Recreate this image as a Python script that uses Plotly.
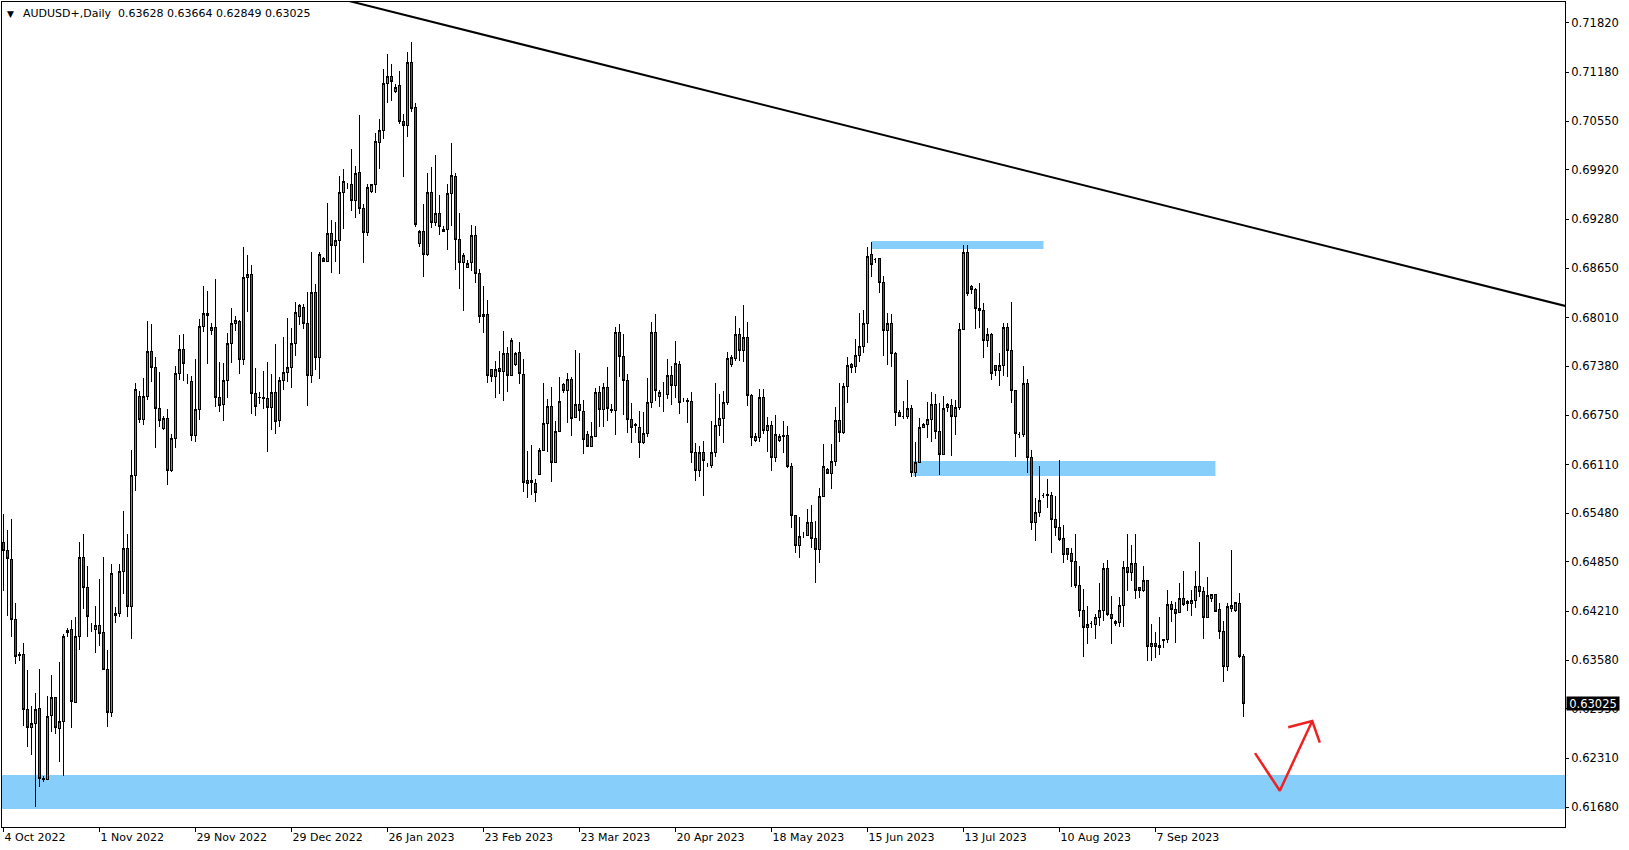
import plotly.graph_objects as go

# ---------------- data (AUDUSD+, Daily) ----------------
opens = [
    0.65102, 0.64995, 0.64884, 0.64109, 0.63656, 0.63656, 0.62945, 0.62714, 0.62756, 0.62955,
    0.62054, 0.62040, 0.62862, 0.63102, 0.62700, 0.62793, 0.63933, 0.63979, 0.63037, 0.63887,
    0.64903, 0.64524, 0.63989, 0.63979, 0.64030, 0.63933, 0.63462, 0.62908, 0.64178, 0.64178,
    0.64732, 0.65023, 0.64270, 0.65965, 0.66990, 0.66695, 0.66990, 0.67572, 0.67364, 0.66833,
    0.66579, 0.66704, 0.66034, 0.66450, 0.67286, 0.67595, 0.67180, 0.67180, 0.66487, 0.66824,
    0.67895, 0.68066, 0.67849, 0.67884, 0.66978, 0.66888, 0.67202, 0.67677, 0.67935, 0.67965,
    0.67470, 0.68530, 0.68569, 0.67030, 0.66978, 0.66978, 0.66966, 0.66849, 0.67043, 0.66685,
    0.67202, 0.67302, 0.67366, 0.67677, 0.68030, 0.68142, 0.67935, 0.67263, 0.68336, 0.67496,
    0.68776, 0.68741, 0.69099, 0.68948, 0.69008, 0.69629, 0.69715, 0.69724, 0.69521, 0.69888,
    0.69422, 0.69112, 0.69640, 0.69724, 0.70275, 0.70435, 0.71030, 0.71133, 0.70931, 0.71004,
    0.70543, 0.70491, 0.71310, 0.70728, 0.68970, 0.69129, 0.68819, 0.69629, 0.69241, 0.69349,
    0.69121, 0.69151, 0.69616, 0.69840, 0.69021, 0.68720, 0.68659, 0.68724, 0.69077, 0.68582,
    0.68022, 0.68052, 0.67332, 0.67246, 0.67345, 0.67310, 0.67547, 0.67259, 0.67405, 0.67560,
    0.67280, 0.65897, 0.65897, 0.65867, 0.65983, 0.66285, 0.66634, 0.66866, 0.66134, 0.66538,
    0.67138, 0.67065, 0.67203, 0.66720, 0.66892, 0.66793, 0.66500, 0.66341, 0.66470, 0.67043,
    0.66823, 0.67108, 0.66823, 0.66806, 0.67819, 0.67504, 0.67194, 0.66694, 0.66610, 0.66590,
    0.66392, 0.66513, 0.66914, 0.67819, 0.66987, 0.67021, 0.67021, 0.67263, 0.67129, 0.67409,
    0.66935, 0.66944, 0.66922, 0.66263, 0.66030, 0.66263, 0.66090, 0.66095, 0.66263, 0.66612,
    0.66707, 0.66914, 0.67409, 0.67482, 0.67797, 0.67582, 0.67754, 0.67000, 0.66418, 0.66461,
    0.66978, 0.66547, 0.66608, 0.66202, 0.66418, 0.66470, 0.66491, 0.66082, 0.65448, 0.65060,
    0.65207, 0.65198, 0.65362, 0.65155, 0.65013, 0.65694, 0.66051, 0.65995, 0.66146, 0.66685,
    0.66522, 0.67125, 0.67397, 0.67375, 0.67513, 0.67642, 0.67935, 0.68819, 0.68767, 0.68776,
    0.68465, 0.67840, 0.67927, 0.67547, 0.66780, 0.66737, 0.66737, 0.66836, 0.66004, 0.66138,
    0.66591, 0.66621, 0.66694, 0.66892, 0.66535, 0.66241, 0.66849, 0.66879, 0.66737, 0.66849,
    0.67858, 0.68849, 0.68418, 0.68375, 0.68129, 0.68099, 0.67711, 0.67793, 0.67384, 0.67323,
    0.67384, 0.67883, 0.67582, 0.67065, 0.66500, 0.66500, 0.67159, 0.66198, 0.65358, 0.65487,
    0.65707, 0.65707, 0.65703, 0.65401, 0.65298, 0.65156, 0.65026, 0.64953, 0.64862, 0.64544,
    0.64220, 0.64005, 0.64048, 0.64035, 0.64134, 0.64216, 0.64768, 0.64177, 0.64048, 0.64065,
    0.64281, 0.64781, 0.64716, 0.64832, 0.64522, 0.64479, 0.64604, 0.63755, 0.63798, 0.63768,
    0.63828, 0.63841, 0.64306, 0.64238, 0.64194, 0.64380, 0.64345, 0.64315, 0.64358, 0.64539,
    0.64466, 0.64134, 0.64380, 0.64423, 0.64229, 0.63949, 0.63496, 0.64251, 0.64216, 0.64315,
    0.63628,
]
highs = [
    0.65471, 0.65263, 0.65402, 0.64316, 0.63684, 0.63808, 0.63453, 0.62991, 0.63162, 0.63462,
    0.62087, 0.63116, 0.63393, 0.63110, 0.63554, 0.63924, 0.63993, 0.64099, 0.64132, 0.65102,
    0.65217, 0.64801, 0.64062, 0.64279, 0.64630, 0.64908, 0.63716, 0.64824, 0.64270, 0.64824,
    0.65503, 0.65217, 0.66302, 0.67166, 0.67064, 0.67226, 0.67965, 0.67932, 0.67503, 0.67304,
    0.66741, 0.66824, 0.66501, 0.67387, 0.67780, 0.67803, 0.67286, 0.67249, 0.67480, 0.67988,
    0.68413, 0.68357, 0.67935, 0.68508, 0.67440, 0.67427, 0.67814, 0.68129, 0.68030, 0.67978,
    0.68918, 0.68819, 0.68690, 0.67353, 0.67052, 0.67323, 0.67435, 0.67280, 0.67668, 0.67246,
    0.67763, 0.68000, 0.67879, 0.68215, 0.68185, 0.68185, 0.68336, 0.68853, 0.68444, 0.68862,
    0.68790, 0.69495, 0.69271, 0.69250, 0.69845, 0.69926, 0.69745, 0.70189, 0.69970, 0.70629,
    0.69478, 0.69737, 0.69730, 0.70401, 0.70577, 0.71224, 0.71418, 0.71288, 0.71030, 0.71198,
    0.70642, 0.71439, 0.71569, 0.70788, 0.69142, 0.69478, 0.69883, 0.69952, 0.70112, 0.69595,
    0.69194, 0.69737, 0.70271, 0.69883, 0.69358, 0.68840, 0.68754, 0.69207, 0.69194, 0.68638,
    0.68418, 0.68237, 0.67340, 0.67448, 0.67578, 0.67841, 0.67634, 0.67741, 0.67569, 0.67690,
    0.67474, 0.66289, 0.66362, 0.65918, 0.66319, 0.67160, 0.66957, 0.67117, 0.66673, 0.67246,
    0.67168, 0.67289, 0.67246, 0.67591, 0.67547, 0.66944, 0.66538, 0.66664, 0.67095, 0.67125,
    0.67168, 0.67375, 0.66892, 0.67892, 0.67927, 0.67797, 0.67280, 0.66901, 0.66651, 0.66801,
    0.66793, 0.67224, 0.67957, 0.68056, 0.67073, 0.67181, 0.67470, 0.67383, 0.67707, 0.67448,
    0.66965, 0.66965, 0.67043, 0.66383, 0.66349, 0.66414, 0.66125, 0.66677, 0.67168, 0.67021,
    0.67064, 0.67569, 0.67526, 0.68030, 0.67870, 0.68172, 0.67948, 0.67021, 0.66513, 0.67082,
    0.67082, 0.66720, 0.66672, 0.66750, 0.66504, 0.66672, 0.66608, 0.66133, 0.65457, 0.65427,
    0.65241, 0.65534, 0.65586, 0.65384, 0.65802, 0.66375, 0.66060, 0.66375, 0.66858, 0.67159,
    0.67168, 0.67504, 0.67427, 0.67728, 0.68065, 0.68108, 0.68927, 0.68991, 0.68776, 0.68780,
    0.68547, 0.68065, 0.68056, 0.67560, 0.66815, 0.66935, 0.67203, 0.66879, 0.66397, 0.66707,
    0.66642, 0.66922, 0.67043, 0.67017, 0.66900, 0.67000, 0.66901, 0.66953, 0.66944, 0.67935,
    0.68948, 0.68948, 0.68431, 0.68388, 0.68452, 0.68194, 0.67879, 0.67815, 0.67390, 0.67547,
    0.67935, 0.67935, 0.68215, 0.67070, 0.66535, 0.67384, 0.67211, 0.66297, 0.65672, 0.66091,
    0.65737, 0.65918, 0.65759, 0.65703, 0.66168, 0.65328, 0.65035, 0.65035, 0.65212, 0.64798,
    0.64500, 0.64281, 0.64091, 0.64177, 0.64574, 0.64841, 0.64875, 0.64410, 0.64100, 0.64393,
    0.64867, 0.65212, 0.65069, 0.65212, 0.64525, 0.64798, 0.64617, 0.64048, 0.63949, 0.64134,
    0.63855, 0.64487, 0.64350, 0.64328, 0.64582, 0.64733, 0.64358, 0.64487, 0.64733, 0.65112,
    0.64531, 0.64660, 0.64430, 0.64436, 0.64315, 0.64087, 0.64315, 0.65005, 0.64337, 0.64444,
    0.63664,
]
lows = [
    0.64478, 0.64155, 0.63878, 0.63531, 0.63564, 0.62723, 0.62455, 0.62354, 0.61684, 0.61938,
    0.62007, 0.62030, 0.62654, 0.62631, 0.62261, 0.62077, 0.63878, 0.62700, 0.63023, 0.63716,
    0.64247, 0.63878, 0.63947, 0.63670, 0.63762, 0.63448, 0.62714, 0.62839, 0.64062, 0.64132,
    0.64432, 0.64132, 0.63855, 0.65771, 0.66649, 0.66625, 0.66949, 0.67180, 0.66325, 0.66593,
    0.66556, 0.65840, 0.66011, 0.66325, 0.67203, 0.67194, 0.67157, 0.66418, 0.66395, 0.66685,
    0.67826, 0.67410, 0.67784, 0.66858, 0.66793, 0.66677, 0.66974, 0.67418, 0.67840, 0.67276,
    0.67396, 0.68086, 0.66759, 0.66741, 0.66888, 0.66823, 0.66276, 0.66556, 0.66504, 0.66590,
    0.67073, 0.67181, 0.67095, 0.67513, 0.67914, 0.67858, 0.66871, 0.67159, 0.67332, 0.67211,
    0.68730, 0.68733, 0.68590, 0.68724, 0.68569, 0.69151, 0.69668, 0.69392, 0.69293, 0.69345,
    0.68711, 0.69064, 0.69616, 0.69616, 0.69926, 0.70314, 0.70780, 0.70814, 0.70909, 0.70513,
    0.69832, 0.70349, 0.70672, 0.69176, 0.68927, 0.68539, 0.68806, 0.69172, 0.69194, 0.69077,
    0.69110, 0.68884, 0.69194, 0.68625, 0.68379, 0.68099, 0.68647, 0.68616, 0.68461, 0.67935,
    0.67806, 0.67168, 0.67181, 0.66974, 0.67022, 0.66935, 0.67052, 0.67250, 0.67388, 0.67151,
    0.65759, 0.65673, 0.65716, 0.65630, 0.65974, 0.66280, 0.66276, 0.65888, 0.66125, 0.66530,
    0.67030, 0.66651, 0.66483, 0.66707, 0.66677, 0.66242, 0.66341, 0.66332, 0.66460, 0.66599,
    0.66599, 0.66677, 0.66771, 0.66491, 0.67246, 0.66750, 0.66522, 0.66392, 0.66513, 0.66189,
    0.66375, 0.66470, 0.66836, 0.66935, 0.66849, 0.66793, 0.66952, 0.66879, 0.66965, 0.66763,
    0.66914, 0.66642, 0.66133, 0.65901, 0.65944, 0.65707, 0.66073, 0.66060, 0.66211, 0.66483,
    0.66392, 0.66879, 0.67375, 0.67452, 0.67452, 0.67431, 0.66870, 0.66353, 0.66405, 0.66405,
    0.66500, 0.66276, 0.66030, 0.66146, 0.66405, 0.66263, 0.66060, 0.65284, 0.64970, 0.64896,
    0.65155, 0.65185, 0.65026, 0.64573, 0.64832, 0.65690, 0.65987, 0.65789, 0.66090, 0.66405,
    0.66504, 0.66909, 0.67289, 0.67297, 0.67440, 0.67547, 0.67677, 0.68539, 0.68711, 0.68323,
    0.67513, 0.67397, 0.67375, 0.66612, 0.66720, 0.66694, 0.66694, 0.65953, 0.65944, 0.66130,
    0.66578, 0.66448, 0.66405, 0.66435, 0.65974, 0.66233, 0.66793, 0.66220, 0.66491, 0.66815,
    0.67849, 0.68293, 0.68314, 0.67862, 0.67871, 0.67491, 0.67634, 0.67203, 0.67254, 0.67129,
    0.67254, 0.67246, 0.66901, 0.66211, 0.66448, 0.66470, 0.66004, 0.65263, 0.65125, 0.65435,
    0.65672, 0.65543, 0.64962, 0.65186, 0.65125, 0.64841, 0.64875, 0.64531, 0.64509, 0.64143,
    0.63625, 0.63785, 0.64000, 0.63854, 0.64022, 0.64091, 0.64151, 0.63785, 0.64026, 0.64005,
    0.64005, 0.64479, 0.64608, 0.64375, 0.64380, 0.64466, 0.63571, 0.63571, 0.63613, 0.63647,
    0.63733, 0.63798, 0.64069, 0.63798, 0.64186, 0.64285, 0.64220, 0.64156, 0.64259, 0.64393,
    0.63850, 0.64130, 0.64337, 0.64199, 0.63854, 0.63302, 0.63440, 0.64207, 0.64199, 0.63613,
    0.62849,
]
closes = [
    0.64995, 0.64894, 0.64109, 0.63624, 0.63646, 0.62945, 0.62714, 0.62756, 0.62945, 0.62054,
    0.62040, 0.62853, 0.63102, 0.62714, 0.62793, 0.63887, 0.63970, 0.63046, 0.63887, 0.64903,
    0.64515, 0.64146, 0.63989, 0.64030, 0.63924, 0.63462, 0.62908, 0.64695, 0.64155, 0.64732,
    0.65023, 0.64270, 0.65965, 0.67083, 0.66695, 0.66990, 0.67572, 0.67364, 0.66833, 0.66685,
    0.66704, 0.66034, 0.66450, 0.67286, 0.67595, 0.67410, 0.67180, 0.66487, 0.66824, 0.67895,
    0.68066, 0.68034, 0.67884, 0.66978, 0.66879, 0.67202, 0.67677, 0.67935, 0.67974, 0.67470,
    0.68530, 0.68569, 0.67030, 0.66866, 0.66970, 0.66966, 0.66849, 0.67043, 0.66664, 0.67202,
    0.67302, 0.67366, 0.67677, 0.68073, 0.68168, 0.67927, 0.67263, 0.68336, 0.67496, 0.68827,
    0.68741, 0.69099, 0.68948, 0.69008, 0.69629, 0.69767, 0.69715, 0.69521, 0.69875, 0.69422,
    0.69112, 0.69694, 0.69724, 0.70288, 0.70435, 0.71030, 0.71133, 0.71060, 0.70987, 0.70543,
    0.70491, 0.71310, 0.70715, 0.69215, 0.69120, 0.68827, 0.69629, 0.69241, 0.69349, 0.69185,
    0.69155, 0.69616, 0.69853, 0.69021, 0.68720, 0.68806, 0.68711, 0.69077, 0.68582, 0.68022,
    0.68052, 0.67259, 0.67246, 0.67341, 0.67310, 0.67547, 0.67259, 0.67707, 0.67547, 0.67289,
    0.65875, 0.65867, 0.65875, 0.65746, 0.66285, 0.66634, 0.66866, 0.66134, 0.66538, 0.66931,
    0.67073, 0.67203, 0.66707, 0.66892, 0.66806, 0.66436, 0.66349, 0.66470, 0.67043, 0.66823,
    0.67108, 0.66836, 0.66806, 0.67819, 0.67504, 0.67194, 0.66694, 0.66590, 0.66625, 0.66392,
    0.66513, 0.66914, 0.67819, 0.67073, 0.67039, 0.67021, 0.67263, 0.67129, 0.67418, 0.66914,
    0.66935, 0.66922, 0.66263, 0.66030, 0.66263, 0.66159, 0.66090, 0.66263, 0.66620, 0.66707,
    0.66914, 0.67482, 0.67495, 0.67797, 0.67582, 0.67754, 0.67000, 0.66461, 0.66470, 0.66978,
    0.66547, 0.66608, 0.66202, 0.66500, 0.66478, 0.66491, 0.66082, 0.65448, 0.65060, 0.65177,
    0.65207, 0.65362, 0.65155, 0.65013, 0.65694, 0.66090, 0.65995, 0.66146, 0.66685, 0.66522,
    0.67125, 0.67384, 0.67362, 0.67513, 0.67642, 0.67935, 0.68797, 0.68702, 0.68767, 0.68465,
    0.67840, 0.67935, 0.67547, 0.66780, 0.66737, 0.66737, 0.66836, 0.66004, 0.66138, 0.66591,
    0.66629, 0.66694, 0.66892, 0.66535, 0.66241, 0.66836, 0.66892, 0.66737, 0.66849, 0.67858,
    0.68849, 0.68323, 0.68375, 0.68121, 0.68099, 0.67711, 0.67793, 0.67289, 0.67323, 0.67384,
    0.67883, 0.67582, 0.67065, 0.66513, 0.66500, 0.67159, 0.66198, 0.65358, 0.65487, 0.65642,
    0.65707, 0.65716, 0.65401, 0.65298, 0.65143, 0.64949, 0.64949, 0.64862, 0.64544, 0.64220,
    0.64005, 0.64035, 0.64048, 0.64134, 0.64216, 0.64768, 0.64177, 0.64121, 0.64078, 0.64281,
    0.64781, 0.64716, 0.64832, 0.64475, 0.64479, 0.64604, 0.63755, 0.63798, 0.63755, 0.63742,
    0.63850, 0.64306, 0.64238, 0.64186, 0.64380, 0.64294, 0.64315, 0.64358, 0.64539, 0.64466,
    0.64134, 0.64410, 0.64423, 0.64207, 0.63949, 0.63496, 0.64272, 0.64281, 0.64328, 0.63625,
    0.63025,
]

x_tick_bars = [0, 24, 48, 72, 96, 120, 144, 168, 192, 216, 240, 264, 288]
x_tick_labels = ["4 Oct 2022", "1 Nov 2022", "29 Nov 2022", "29 Dec 2022", "26 Jan 2023",
                 "23 Feb 2023", "23 Mar 2023", "20 Apr 2023", "18 May 2023", "15 Jun 2023",
                 "13 Jul 2023", "10 Aug 2023", "7 Sep 2023"]
y_tick_values = [0.71820, 0.71180, 0.70550, 0.69920, 0.69280, 0.68650, 0.68010, 0.67380,
                 0.66750, 0.66110, 0.65480, 0.64850, 0.64210, 0.63580, 0.62950, 0.62310, 0.61680]
y_tick_labels = ["%.5f" % v for v in y_tick_values]

symbol_title = "AUDUSD+,Daily  0.63628 0.63664 0.62849 0.63025"
last_price = 0.63025

# trendline anchors (bar index, price)
trend_bars = [80, 391]
trend_prices = [0.72186, 0.68153]

# supply / demand boxes (bar index range, price range)
zone_start = [217, 227.4]
zone_end = [260, 303]
zone_low = [0.68896, 0.65961]
zone_high = [0.69000, 0.66155]
support_low, support_high = 0.61656, 0.62095

# hand-drawn arrow (bar index, price)
arrow_bars = [312.9, 319.1, 327.2, None, 321.2, 327.2, 329.1]
arrow_prices = [0.62378, 0.61892, 0.62793, None, 0.62712, 0.62793, 0.62513]

x_range = [-0.375, 390.4]
y_range = [0.61423, 0.72090]

GREEN = "#22CC22"
RED = "#E41C1C"
BLUE = "#87CEFA"
FONT = "DejaVu Sans"

bars = list(range(len(opens)))

fig = go.Figure()
fig.add_trace(go.Candlestick(
    x=bars, open=opens, high=highs, low=lows, close=closes,
    increasing=dict(fillcolor=GREEN, line=dict(color="black", width=1)),
    decreasing=dict(fillcolor=RED, line=dict(color="black", width=1)),
    whiskerwidth=0, hoverinfo="skip", showlegend=False,
))
fig.add_trace(go.Scatter(x=trend_bars, y=trend_prices, mode="lines",
                         line=dict(color="black", width=2), hoverinfo="skip", showlegend=False))
fig.add_trace(go.Scatter(x=arrow_bars, y=arrow_prices, mode="lines",
                         line=dict(color="#EE2222", width=2.5), hoverinfo="skip",
                         showlegend=False, connectgaps=False))

shapes = [dict(type="rect", xref="paper", yref="y", x0=0, x1=1, y0=support_low, y1=support_high,
               fillcolor=BLUE, line=dict(width=0), layer="below")]
for s, e, lo, hi in zip(zone_start, zone_end, zone_low, zone_high):
    shapes.append(dict(type="rect", xref="x", yref="y", x0=s, x1=e, y0=lo, y1=hi,
                       fillcolor=BLUE, line=dict(width=0), layer="below"))

annotations = [
    dict(xref="paper", yref="paper", x=0, y=1, xanchor="left", yanchor="top",
         xshift=3, yshift=-5, text="▼", showarrow=False,
         font=dict(family=FONT, size=9, color="black")),
    dict(xref="paper", yref="paper", x=0, y=1, xanchor="left", yanchor="top",
         xshift=19, yshift=-3, text=symbol_title, showarrow=False,
         font=dict(family=FONT, size=11, color="black")),
    dict(xref="paper", yref="y", x=1, y=last_price, xanchor="left", yanchor="middle",
         xshift=1, text="%.5f" % last_price, showarrow=False, bgcolor="black",
         width=52, height=13, borderpad=0, align="center",
         font=dict(family=FONT, size=11.5, color="white")),
]

fig.update_layout(
    template="none",
    width=1629, height=850,
    margin=dict(l=2, r=64, t=2, b=23, pad=0),
    paper_bgcolor="white", plot_bgcolor="white",
    showlegend=False, boxgap=0.32,
    shapes=shapes, annotations=annotations,
    xaxis=dict(range=x_range, tickmode="array", tickvals=x_tick_bars, ticktext=x_tick_labels,
               ticks="outside", ticklen=4, tickcolor="black", tickwidth=1,
               ticklabelposition="outside right",
               tickfont=dict(family=FONT, size=11, color="black"),
               showgrid=False, zeroline=False, showline=True, linecolor="black", linewidth=1,
               mirror=True, rangeslider=dict(visible=False), automargin=False, fixedrange=True),
    yaxis=dict(side="right", range=y_range, tickmode="array", tickvals=y_tick_values,
               ticktext=y_tick_labels, ticks="outside", ticklen=3, tickcolor="black", tickwidth=1,
               tickfont=dict(family=FONT, size=11.5, color="black"),
               showgrid=False, zeroline=False, showline=True, linecolor="black", linewidth=1,
               mirror=True, automargin=False, fixedrange=True),
)

post = """
document.body.style.margin='0';
var gd = document.getElementById('{plot_id}');
function crisp(){
  document.querySelectorAll('.boxlayer path').forEach(function(p){ p.style.shapeRendering='crispEdges'; });
}
crisp();
if (gd && gd.on) { gd.on('plotly_afterplot', crisp); }
"""

fig.write_html("out.html", config={"displayModeBar": False}, post_script=post)
